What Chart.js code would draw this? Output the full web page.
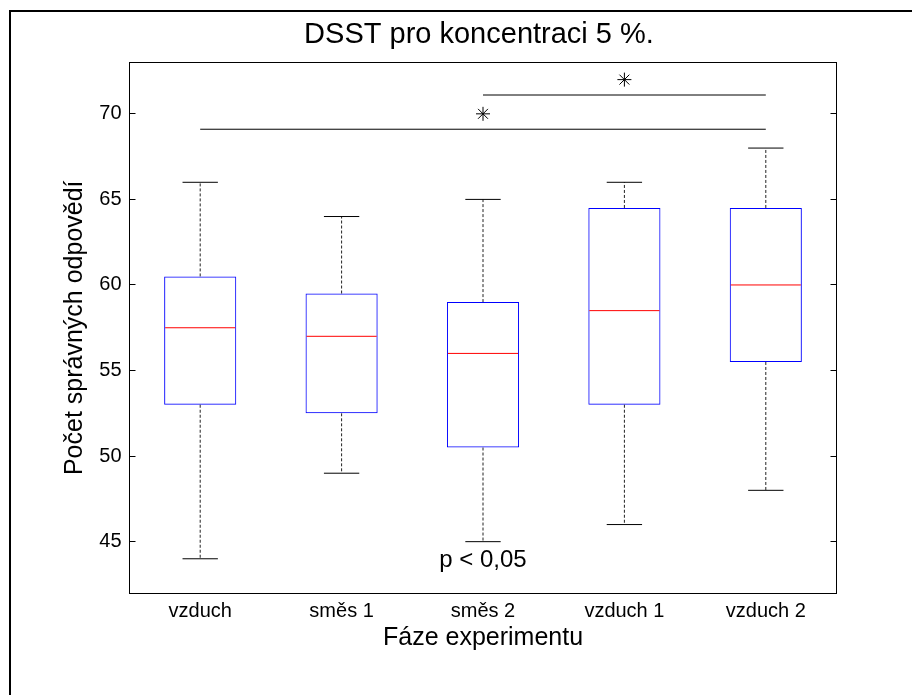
<!DOCTYPE html>
<html><head><meta charset="utf-8">
<script src="https://cdn.jsdelivr.net/npm/chart.js@4/dist/chart.umd.min.js"></script>
<style>html,body{margin:0;padding:0;background:#fff;}canvas{display:block;}</style>
</head><body>
<canvas id="c" width="912" height="695"></canvas>
<script>
// ---- data ----
const categories = ['vzduch', 'směs 1', 'směs 2', 'vzduch 1', 'vzduch 2'];
const whiskerLow  = [44, 49, 45, 46, 48];
const q1          = [53, 52.5, 50.5, 53, 55.5];
const medians     = [57.5, 57, 56, 58.5, 60];
const q3          = [60.5, 59.5, 59, 64.5, 64.5];
const whiskerHigh = [66, 64, 65, 66, 68];
const sigLineLow  = [69.1, null, null, null, 69.1];
const sigLineHigh = [null, null, 71.1, null, 71.1];
const sigStars    = [null, null, 70, 72, null];
const yTicks      = [45, 50, 55, 60, 65, 70];
const titleText = 'DSST pro koncentraci 5 %.';
const xTitle = 'Fáze experimentu';
const yTitle = 'Počet správných odpovědí';
const pText = 'p < 0,05';
const pTextAt = {index: 2, value: 43.9};

const F = '"Liberation Sans", Arial, Helvetica, sans-serif';

const boxPlugin = {
  id: 'boxparts',
  beforeDraw(chart) {
    const ctx = chart.ctx;
    ctx.save();
    ctx.fillStyle = '#fff';
    ctx.fillRect(0, 0, chart.width, chart.height);
    ctx.strokeStyle = '#000';
    ctx.lineWidth = 2;
    ctx.beginPath();
    ctx.moveTo(10, chart.height);
    ctx.lineTo(10, 11);
    ctx.lineTo(chart.width, 11);
    ctx.stroke();
    ctx.restore();
  },
  afterDatasetsDraw(chart) {
    const ctx = chart.ctx;
    const xs = chart.scales.x, ys = chart.scales.y;
    const catW = xs.getPixelForValue(1) - xs.getPixelForValue(0);
    const boxHalf = catW * 0.255;
    const capHalf = catW * 0.125;
    ctx.save();
    for (let i = 0; i < categories.length; i++) {
      const cx = xs.getPixelForValue(i);
      // whiskers
      ctx.strokeStyle = '#222';
      ctx.lineWidth = 1;
      ctx.setLineDash([3, 2]);
      ctx.beginPath();
      ctx.moveTo(cx, ys.getPixelForValue(q3[i]));
      ctx.lineTo(cx, ys.getPixelForValue(whiskerHigh[i]));
      ctx.moveTo(cx, ys.getPixelForValue(q1[i]));
      ctx.lineTo(cx, ys.getPixelForValue(whiskerLow[i]));
      ctx.stroke();
      ctx.setLineDash([]);
      // caps
      ctx.strokeStyle = '#000';
      ctx.beginPath();
      const yh = ys.getPixelForValue(whiskerHigh[i]);
      const yl = ys.getPixelForValue(whiskerLow[i]);
      ctx.moveTo(cx - capHalf, yh); ctx.lineTo(cx + capHalf, yh);
      ctx.moveTo(cx - capHalf, yl); ctx.lineTo(cx + capHalf, yl);
      ctx.stroke();
      // median
      ctx.strokeStyle = '#ff0000';
      ctx.beginPath();
      const ym = ys.getPixelForValue(medians[i]);
      ctx.moveTo(cx - boxHalf + 1, ym); ctx.lineTo(cx + boxHalf - 1, ym);
      ctx.stroke();
    }
    // annotation text
    ctx.fillStyle = '#000';
    ctx.font = '24px ' + F;
    ctx.textAlign = 'center';
    ctx.textBaseline = 'middle';
    ctx.fillText(pText, xs.getPixelForValue(pTextAt.index), ys.getPixelForValue(pTextAt.value));
    ctx.restore();
  },
  afterDraw(chart) {
    const ctx = chart.ctx, a = chart.chartArea;
    ctx.save();
    ctx.strokeStyle = '#000';
    ctx.lineWidth = 1;
    ctx.beginPath();
    ctx.moveTo(a.left, a.top);
    ctx.lineTo(a.right, a.top);
    ctx.stroke();
    ctx.fillStyle = '#000';
    ctx.font = '29px ' + F;
    ctx.textAlign = 'center';
    ctx.textBaseline = 'middle';
    ctx.fillText(titleText, (a.left + a.right) / 2 - 4, 35);
    ctx.restore();
  }
};

const yTickBuilder = s => { s.ticks = yTicks.map(v => ({value: v})); };

new Chart(document.getElementById('c'), {
  type: 'bar',
  data: {
    labels: categories,
    datasets: [
      {
        type: 'bar',
        data: q1.map((v, i) => [v, q3[i]]),
        borderColor: '#0000ff',
        backgroundColor: 'rgba(0,0,0,0)',
        borderWidth: 1,
        borderSkipped: false,
        categoryPercentage: 1,
        barPercentage: 0.51,
        yAxisID: 'y',
        order: 3
      },
      {
        type: 'line',
        data: sigLineLow,
        spanGaps: true,
        borderColor: '#000',
        borderWidth: 1,
        pointRadius: 0,
        yAxisID: 'y',
        order: 1
      },
      {
        type: 'line',
        data: sigLineHigh,
        spanGaps: true,
        borderColor: '#000',
        borderWidth: 1,
        pointRadius: 0,
        yAxisID: 'y',
        order: 1
      },
      {
        type: 'line',
        data: sigStars,
        showLine: false,
        pointStyle: 'star',
        pointRadius: 7,
        borderColor: '#000',
        pointBorderColor: '#000',
        pointBorderWidth: 1,
        yAxisID: 'y',
        order: 0
      }
    ]
  },
  options: {
    responsive: false,
    animation: false,
    devicePixelRatio: 1,
    layout: {padding: {left: 9.5, right: 0, top: 62.5, bottom: 0}},
    plugins: {legend: {display: false}, tooltip: {enabled: false}, title: {display: false}},
    scales: {
      x: {
        type: 'category',
        offset: true,
        afterFit: s => { s.height = 102; },
        grid: {display: true, drawOnChartArea: false, drawTicks: false},
        border: {display: true, color: '#000', width: 1},
        ticks: {color: '#000', padding: 6, font: {size: 20, family: F}},
        title: {display: true, text: xTitle, color: '#000', font: {size: 25, family: F}, padding: {top: 0, bottom: 42}}
      },
      y: {
        type: 'linear', position: 'left', min: 42, max: 73,
        afterBuildTicks: yTickBuilder,
        afterFit: s => { s.width = 120; },
        grid: {display: true, drawOnChartArea: false, drawTicks: true, tickLength: -6, tickColor: '#000'},
        border: {display: true, color: '#000', width: 1},
        ticks: {color: '#000', padding: 14, font: {size: 20, family: F}},
        title: {display: true, text: yTitle, color: '#000', font: {size: 25, family: F}, padding: {top: 50.5, bottom: 0}}
      },
      y2: {
        type: 'linear', position: 'right', min: 42, max: 73,
        afterBuildTicks: yTickBuilder,
        afterFit: s => { s.width = 75.5; },
        grid: {display: true, drawOnChartArea: false, drawTicks: true, tickLength: -6, tickColor: '#000'},
        border: {display: true, color: '#000', width: 1},
        ticks: {display: false}
      }
    }
  },
  plugins: [boxPlugin]
});
</script>
</body></html>
